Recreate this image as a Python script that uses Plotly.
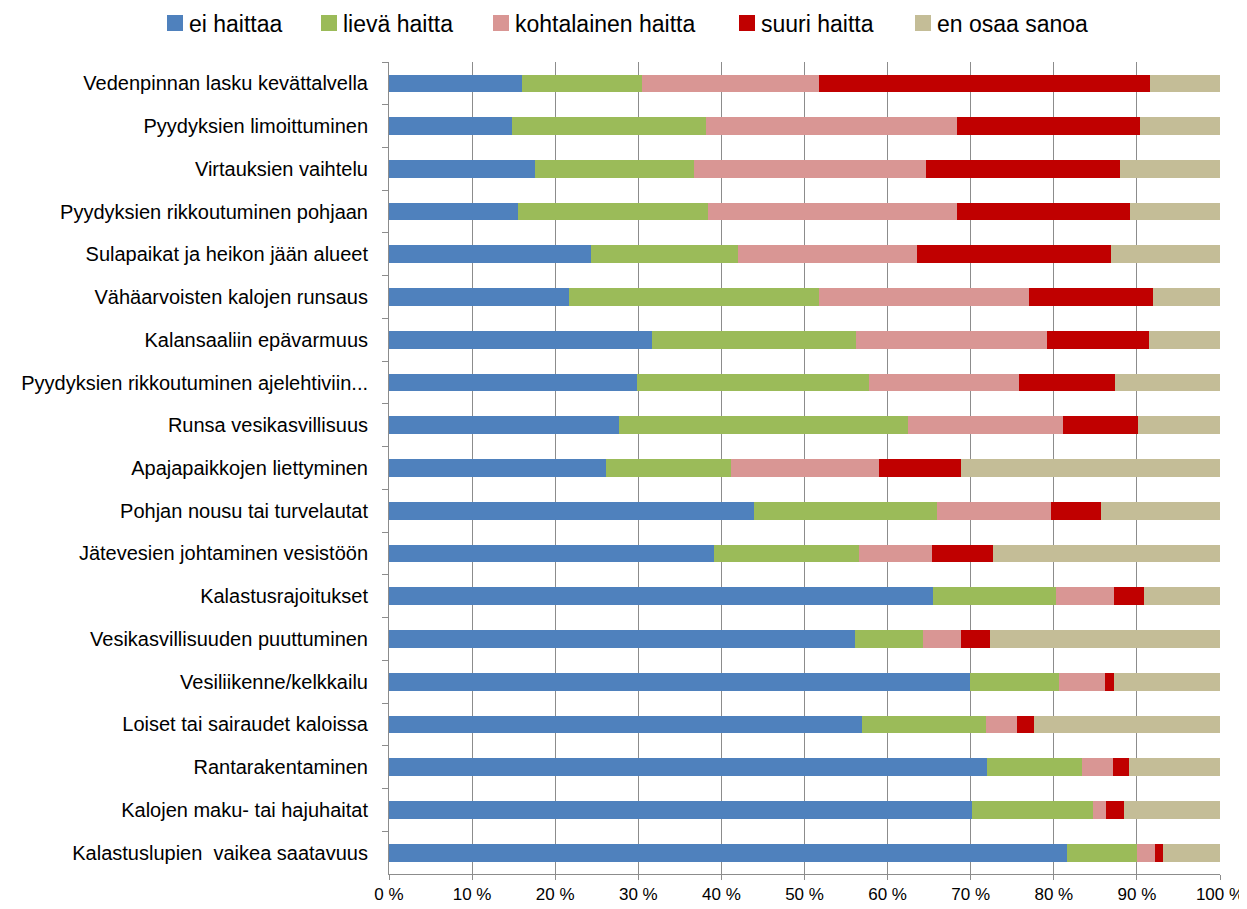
import plotly.graph_objects as go

categories = [
    "Vedenpinnan lasku kevättalvella",
    "Pyydyksien limoittuminen",
    "Virtauksien vaihtelu",
    "Pyydyksien rikkoutuminen pohjaan",
    "Sulapaikat ja heikon jään alueet",
    "Vähäarvoisten kalojen runsaus",
    "Kalansaaliin epävarmuus",
    "Pyydyksien rikkoutuminen ajelehtiviin...",
    "Runsa vesikasvillisuus",
    "Apajapaikkojen liettyminen",
    "Pohjan nousu tai turvelautat",
    "Jätevesien johtaminen vesistöön",
    "Kalastusrajoitukset",
    "Vesikasvillisuuden puuttuminen",
    "Vesiliikenne/kelkkailu",
    "Loiset tai sairaudet kaloissa",
    "Rantarakentaminen",
    "Kalojen maku- tai hajuhaitat",
    "Kalastuslupien  vaikea saatavuus",
]

ei_haittaa = [16.0, 14.8, 17.6, 15.5, 24.3, 21.7, 31.6, 29.9, 27.7, 26.1, 43.9, 39.1, 65.5, 56.1, 69.9, 56.9, 72.0, 70.1, 81.6]
lieva_haitta = [14.4, 23.4, 19.1, 22.9, 17.7, 30.0, 24.6, 27.9, 34.8, 15.0, 22.1, 17.4, 14.8, 8.2, 10.7, 15.0, 11.4, 14.6, 8.4]
kohtalainen_haitta = [21.4, 30.2, 27.9, 30.0, 21.5, 25.3, 23.0, 18.0, 18.6, 17.9, 13.7, 8.8, 7.0, 4.5, 5.6, 3.7, 3.7, 1.6, 2.2]
suuri_haitta = [39.8, 22.0, 23.4, 20.8, 23.4, 14.9, 12.3, 11.6, 9.0, 9.8, 6.0, 7.4, 3.6, 3.5, 1.0, 2.0, 1.9, 2.2, 0.9]
en_osaa_sanoa = [8.4, 9.6, 12.0, 10.8, 13.1, 8.1, 8.5, 12.6, 9.9, 31.2, 14.3, 27.3, 9.1, 27.7, 12.8, 22.4, 11.0, 11.5, 6.9]

series_names = ["ei haittaa", "lievä haitta", "kohtalainen haitta", "suuri haitta", "en osaa sanoa"]
series_values = [ei_haittaa, lieva_haitta, kohtalainen_haitta, suuri_haitta, en_osaa_sanoa]
series_colors = ["#4F81BD", "#9BBB59", "#D99694", "#C00000", "#C4BD97"]

tick_vals = [0, 10, 20, 30, 40, 50, 60, 70, 80, 90, 100]
tick_text = [f"{v} %" for v in tick_vals]

FONT = "Liberation Sans, Arial, sans-serif"
AXIS_COLOR = "#8C8C8C"

# figure geometry (the page adds an 8px body margin)
W, H = 1239, 901
ML, MR, MT, MB = 381, 27, 54, 35
PW, PH = W - ML - MR, H - MT - MB
OFFSET = 8


def px_to_paper_x(px):
    return (px - OFFSET - ML) / PW


def px_to_paper_y(py):
    return 1 - (py - OFFSET - MT) / PH


fig = go.Figure()
for name, vals, color in zip(series_names, series_values, series_colors):
    fig.add_trace(go.Bar(
        y=categories, x=vals, name=name, orientation="h",
        marker=dict(color=color, line=dict(width=0)),
        showlegend=False,
    ))

# custom legend (swatch + text), laid out like the reference
legend_swatch_left = [167, 321, 493, 739, 915]
SW = 16
LEG_Y_TOP, LEG_Y_BOT = 15, 31
shapes = []
annotations = []
for name, color, left in zip(series_names, series_colors, legend_swatch_left):
    shapes.append(dict(
        type="rect", xref="paper", yref="paper",
        x0=px_to_paper_x(left), x1=px_to_paper_x(left + SW),
        y0=px_to_paper_y(LEG_Y_BOT), y1=px_to_paper_y(LEG_Y_TOP),
        fillcolor=color, line=dict(width=0),
    ))
    annotations.append(dict(
        xref="paper", yref="paper",
        x=px_to_paper_x(left + SW + 4), y=px_to_paper_y((LEG_Y_TOP + LEG_Y_BOT) / 2 + 0.5),
        xanchor="left", yanchor="middle",
        text=name, showarrow=False,
        font=dict(size=23, family=FONT, color="black"),
    ))

fig.update_layout(
    barmode="stack",
    bargap=0.585,
    width=W, height=H,
    margin=dict(l=ML, r=MR, t=MT, b=MB, autoexpand=False),
    paper_bgcolor="white",
    plot_bgcolor="white",
    font=dict(family=FONT, color="black"),
    showlegend=False,
    shapes=shapes,
    annotations=annotations,
    xaxis=dict(
        range=[0, 100],
        tickvals=tick_vals, ticktext=tick_text,
        tickfont=dict(size=17, family=FONT),
        showgrid=True, gridcolor=AXIS_COLOR, gridwidth=1,
        ticks="outside", ticklen=5, tickcolor=AXIS_COLOR,
        showline=True, linecolor=AXIS_COLOR, linewidth=1,
        zeroline=False,
        fixedrange=True,
    ),
    yaxis=dict(
        categoryorder="array", categoryarray=categories,
        autorange="reversed",
        tickson="boundaries",
        ticks="outside", ticklen=6, tickcolor=AXIS_COLOR,
        showline=True, linecolor=AXIS_COLOR, linewidth=1,
        showgrid=False,
        tickfont=dict(size=20, family=FONT),
        ticklabelstandoff=16,
        fixedrange=True,
    ),
)

fig.write_html("out.html")
